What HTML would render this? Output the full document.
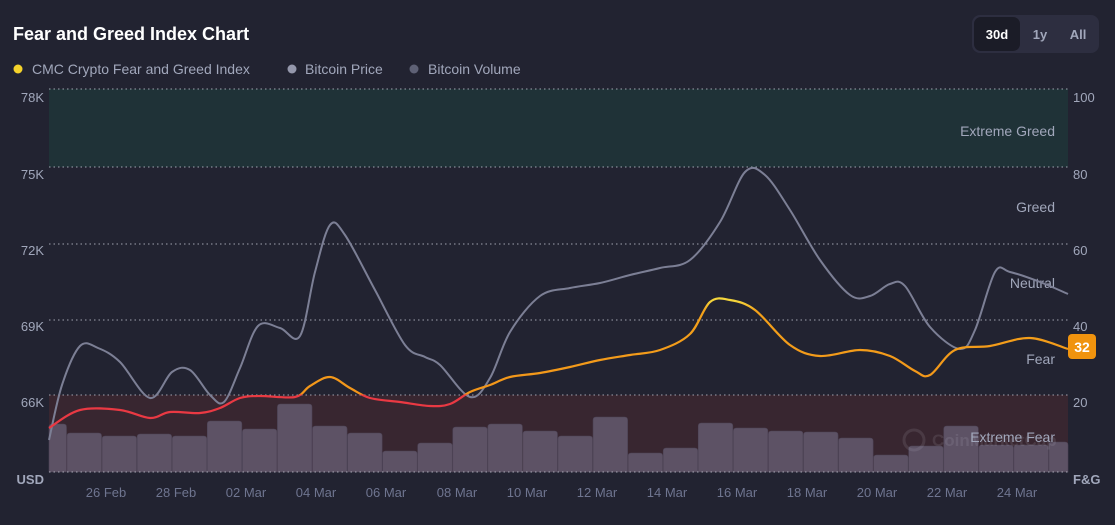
<!DOCTYPE html>
<html><head><meta charset="utf-8"><style>
html,body{margin:0;padding:0;background:#222331;}
body{width:1115px;height:520px;overflow:hidden;font-family:"Liberation Sans",sans-serif;}
</style></head><body>
<svg width="1115" height="520" viewBox="0 0 1115 520" xmlns="http://www.w3.org/2000/svg" font-family="Liberation Sans, sans-serif">
<defs>
<linearGradient id="fg" gradientUnits="userSpaceOnUse" x1="0" y1="89" x2="0" y2="472">
<stop offset="0" stop-color="#f5d63c"/>
<stop offset="0.553" stop-color="#f5d63c"/>
<stop offset="0.58" stop-color="#f3a11a"/>
<stop offset="0.795" stop-color="#f3961a"/>
<stop offset="0.8" stop-color="#ea3943"/>
<stop offset="1" stop-color="#ea3943"/>
</linearGradient>
</defs>
<rect width="1115" height="520" fill="#222331"/>
<text x="13" y="40" fill="#ffffff" font-size="18" font-weight="bold">Fear and Greed Index Chart</text>
<circle cx="18" cy="69" r="4.5" fill="#f5d32b"/>
<text x="32" y="74" fill="#a1a7bb" font-size="14">CMC Crypto Fear and Greed Index</text>
<circle cx="292" cy="69" r="4.5" fill="#9497ab"/>
<text x="305" y="74" fill="#a1a7bb" font-size="14">Bitcoin Price</text>
<circle cx="414" cy="69" r="4.5" fill="#5e6175"/>
<text x="428" y="74" fill="#a1a7bb" font-size="14">Bitcoin Volume</text>
<rect x="972" y="15" width="127" height="38" rx="8" fill="#2d2e40"/>
<rect x="974" y="17" width="46" height="34" rx="7" fill="#1b1c27"/>
<text x="997" y="39" fill="#fff" font-size="13" font-weight="bold" text-anchor="middle">30d</text>
<text x="1040" y="39" fill="#a1a7bb" font-size="13" font-weight="bold" text-anchor="middle">1y</text>
<text x="1078" y="39" fill="#a1a7bb" font-size="13" font-weight="bold" text-anchor="middle">All</text>
<rect x="49" y="89" width="1019" height="78" fill="#1f3237"/>
<rect x="49" y="395" width="1019" height="77" fill="#382630"/>
<g id="bars" fill="#5d5265" stroke="#4c4355" stroke-width="0.6"></g>
<g stroke="#c0c3d0" stroke-width="1" stroke-dasharray="1.5 3" opacity="0.8">
<line x1="49" x2="1068" y1="89" y2="89"/><line x1="49" x2="1068" y1="167" y2="167"/>
<line x1="49" x2="1068" y1="244" y2="244"/><line x1="49" x2="1068" y1="320" y2="320"/>
<line x1="49" x2="1068" y1="395" y2="395"/><line x1="49" x2="1068" y1="472" y2="472"/>
</g>
<g fill="#a1a7bb" font-size="13" text-anchor="end">
<text x="44" y="102">78K</text><text x="44" y="179">75K</text><text x="44" y="255">72K</text>
<text x="44" y="331">69K</text><text x="44" y="407">66K</text>
<text x="44" y="484" font-weight="bold">USD</text>
</g>
<g fill="#a1a7bb" font-size="13">
<text x="1073" y="102">100</text><text x="1073" y="179">80</text><text x="1073" y="255">60</text>
<text x="1073" y="331">40</text><text x="1073" y="407">20</text>
<text x="1073" y="484" font-weight="bold">F&amp;G</text>
</g>
<g opacity="0.12" fill="#c9c9d6">
<circle cx="914" cy="440" r="10" fill="none" stroke="#c9c9d6" stroke-width="3"/>
<text x="932" y="446" font-size="17" font-weight="bold">CoinMarketCap</text>
</g>
<g fill="#a1a7bb" font-size="14" text-anchor="end">
<text x="1055" y="136">Extreme Greed</text><text x="1055" y="212">Greed</text>
<text x="1055" y="288">Neutral</text><text x="1055" y="364">Fear</text>
<text x="1055" y="442">Extreme Fear</text>
</g>
<g fill="#6f7590" font-size="13" text-anchor="middle">
<text x="106" y="497">26 Feb</text><text x="176" y="497">28 Feb</text><text x="246" y="497">02 Mar</text>
<text x="316" y="497">04 Mar</text><text x="386" y="497">06 Mar</text><text x="457" y="497">08 Mar</text>
<text x="527" y="497">10 Mar</text><text x="597" y="497">12 Mar</text><text x="667" y="497">14 Mar</text>
<text x="737" y="497">16 Mar</text><text x="807" y="497">18 Mar</text><text x="877" y="497">20 Mar</text>
<text x="947" y="497">22 Mar</text><text x="1017" y="497">24 Mar</text>
</g>
<path id="price" fill="none" stroke="#7c7f95" stroke-width="2"/>
<path id="fgl" fill="none" stroke="url(#fg)" stroke-width="2.2"/>
<rect x="1068" y="334" width="28" height="25" rx="4" fill="#f0930e"/>
<text x="1082" y="352" fill="#fff" font-size="14" font-weight="bold" text-anchor="middle">32</text>
</svg>
<script>
var tops=[424,433,436,434,436,421,429,404,426,433,451,443,427,424,431,436,417,453,448,423,428,431,432,438,455,446,426,445,445,442];
var g=document.getElementById('bars'),ns='http://www.w3.org/2000/svg';
for(var i=0;i<tops.length;i++){var x0=i==0?49:67+(i-1)*35.07,x1=i==0?66.5:Math.min(67+i*35.07-0.5,1068);
var r=document.createElementNS(ns,'path');var t=tops[i];
r.setAttribute('d','M'+x0+' 472V'+(t+3)+'Q'+x0+' '+t+' '+(x0+3)+' '+t+'H'+(x1-3)+'Q'+x1+' '+t+' '+x1+' '+(t+3)+'V472Z');g.appendChild(r);}
function cr(p){var d='M'+p[0][0]+' '+p[0][1];for(var i=0;i<p.length-1;i++){var p0=p[i-1]||p[i],p1=p[i],p2=p[i+1],p3=p[i+2]||p2;
d+='C'+(p1[0]+(p2[0]-p0[0])/6)+' '+(p1[1]+(p2[1]-p0[1])/6)+' '+(p2[0]-(p3[0]-p1[0])/6)+' '+(p2[1]-(p3[1]-p1[1])/6)+' '+p2[0]+' '+p2[1];}return d;}
var price=[[49,440],[62,385],[80,346],[98,348],[120,362],[150,398],[172,372],[190,370],[210,395],[224,402],[240,368],[258,326],[280,328],[300,336],[315,272],[330,225],[345,235],[375,290],[405,345],[425,357],[440,365],[470,397],[490,378],[510,332],[540,296],[570,288],[600,283],[630,275],[660,268],[690,260],[720,222],[745,172],[765,175],[790,210],[820,260],[850,295],[870,296],[890,284],[905,286],[930,327],[960,349],[975,330],[995,272],[1010,272],[1040,282],[1068,294]];
var fg=[[49,428],[80,410],[120,410],[150,418],[170,412],[200,413],[220,408],[240,398],[260,396],[295,397],[310,386],[330,377],[350,388],[370,398],[400,402],[430,406],[450,404],[470,392],[490,385],[510,377],[540,373],[570,367],[600,360],[630,355],[660,350],[690,334],[710,302],[730,300],[755,310],[790,345],[820,356],[860,350],[890,356],[915,371],[930,375],[955,350],[990,346],[1030,338],[1068,349]];
document.getElementById('price').setAttribute('d',cr(price));
document.getElementById('fgl').setAttribute('d',cr(fg));
</script>
</body></html>
